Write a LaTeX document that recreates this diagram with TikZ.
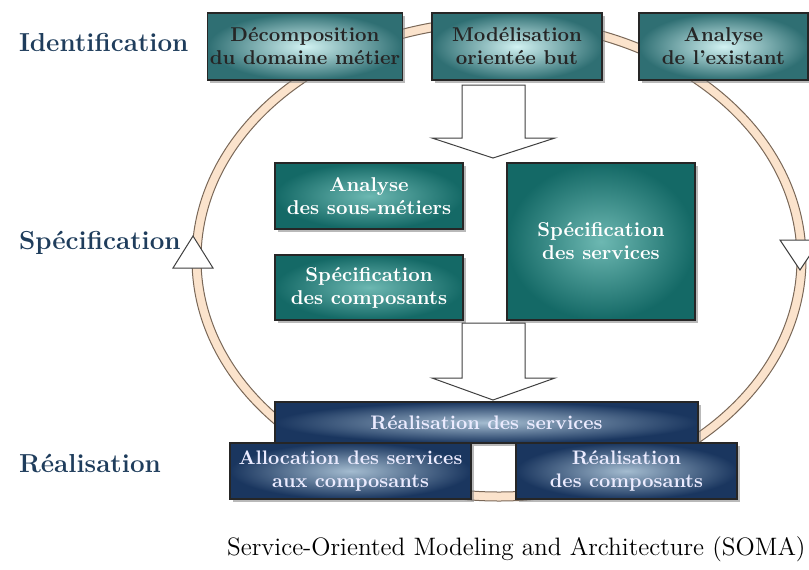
\documentclass[tikz,border=0pt]{standalone}
\usetikzlibrary{shadows}

\definecolor{phaseblue}{HTML}{1F3D5C}
\definecolor{ringfill}{HTML}{FBE3CC}
\definecolor{ringline}{HTML}{7A6858}
\definecolor{identout}{HTML}{2F6F73}
\definecolor{identin}{HTML}{D2F2F2}
\definecolor{specout}{HTML}{146966}
\definecolor{specin}{HTML}{6DB8B2}
\definecolor{realout}{HTML}{1A365F}
\definecolor{realin}{HTML}{A4BCD0}

\tikzset{
  phase/.style={anchor=west, text=phaseblue, font=\fontsize{13}{16}\selectfont\bfseries},
  box/.style={draw=black!85, line width=0.6pt, align=center, inner sep=1pt,
    drop shadow={shadow xshift=1.3pt, shadow yshift=-1.3pt, opacity=0.55}},
  identbox/.style={box, inner color=identin, outer color=identout, text=black!85,
    font=\fontsize{10}{11.5}\selectfont\bfseries},
  specbox/.style={box, inner color=specin, outer color=specout, text=white,
    font=\fontsize{10}{11.5}\selectfont\bfseries},
  realbox/.style={box, inner color=realin, outer color=realout, text=white!92!blue,
    font=\fontsize{9.8}{11.5}\selectfont\bfseries},
  bigarrow/.style={draw=black!75, fill=white, line width=0.5pt, line join=miter},
  ringedge/.style={draw=ringline, line width=0.5pt},
}

\begin{document}
\begin{tikzpicture}[x=0.5pt, y=-0.5pt]
  \useasboundingbox (0,0) rectangle (809,569);
  % cycle ring
  \coordinate (ringc) at (499,259);
  \fill[ringfill, even odd rule] (ringc) ellipse [x radius=307, y radius=242]
    (ringc) ellipse [x radius=298, y radius=233];
  \draw[ringedge] (ringc) ellipse [x radius=307, y radius=242];
  \draw[ringedge] (ringc) ellipse [x radius=298, y radius=233];
  \draw[bigarrow] (173,268) -- (193,236) -- (213,268) -- cycle;
  \draw[bigarrow] (780,240) -- (820,240) -- (800,270) -- cycle;

  % phases
  \node[phase] (ident) at (12,42) {Identification};
  \node[phase] (spec) at (12,243) {Spécification};
  \node[phase] (real) at (12,463) {Réalisation};

  % identification
  \node[identbox, minimum width=95pt, minimum height=33.5pt] (decomp) at (305,46.5)
    {Décomposition\\du domaine métier};
  \node[identbox, minimum width=85pt, minimum height=33.5pt] (modbut) at (517,46.5)
    {Modélisation\\orientée but};
  \node[identbox, minimum width=84.5pt, minimum height=33.5pt] (existant) at (723.5,46.5)
    {Analyse\\de l'existant};

  % specification
  \node[specbox, minimum width=94pt, minimum height=33pt] (sousmet) at (369,196)
    {Analyse\\des sous-métiers};
  \node[specbox, minimum width=94pt, minimum height=32.5pt] (speccomp) at (369,287.5)
    {Spécification\\des composants};
  \node[specbox, minimum width=94pt, minimum height=78.5pt] (specserv) at (601,241.5)
    {Spécification\\des services};

  % realisation
  \node[realbox, minimum width=211.5pt, minimum height=20.5pt] (realserv) at (486.5,422.5)
    {Réalisation des services};
  \node[realbox, minimum width=120.5pt, minimum height=28pt] (alloc) at (350.5,471)
    {Allocation des services\\aux composants};
  \node[realbox, minimum width=110.5pt, minimum height=28pt] (realcomp) at (626.5,471)
    {Réalisation\\des composants};

  % block arrows
  \draw[bigarrow] (462,85) -- (525,85) -- (525,138) -- (555,138) -- (493,158)
    -- (432,138) -- (462,138) -- cycle;
  \draw[bigarrow] (462,323) -- (525,323) -- (525,378) -- (555,378) -- (493,400)
    -- (432,378) -- (462,378) -- cycle;

  \node[anchor=east, inner sep=0pt, font=\fontsize{12.6}{15}\selectfont] (soma) at (806,549)
    {Service-Oriented Modeling and Architecture (SOMA)};
\end{tikzpicture}
\end{document}
